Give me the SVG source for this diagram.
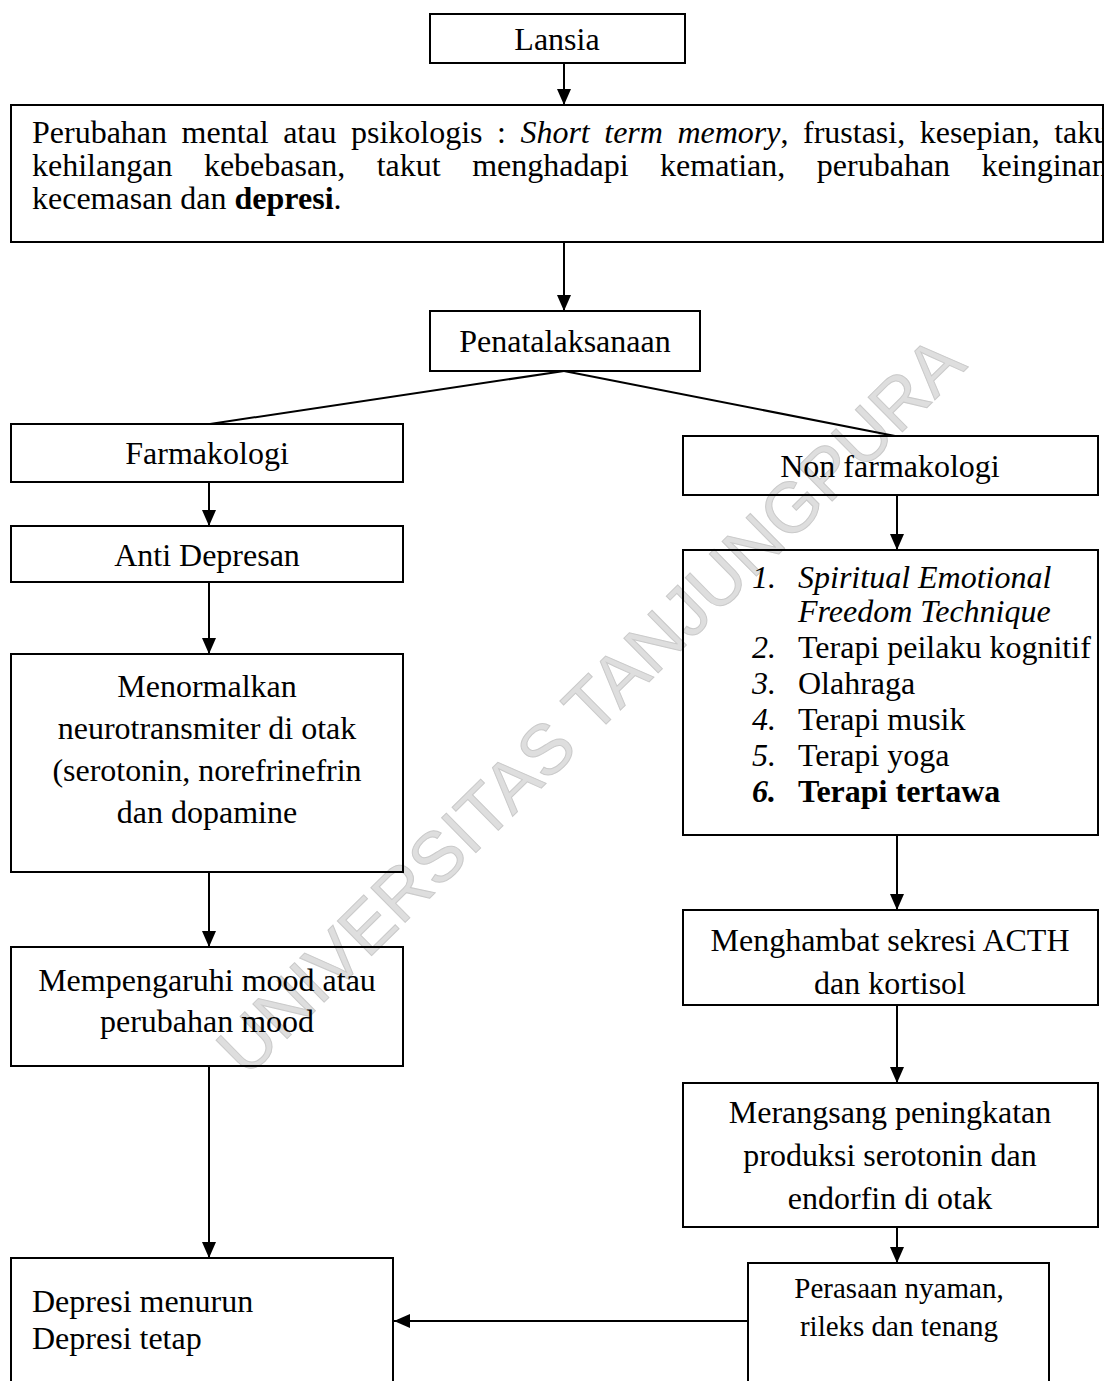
<svg xmlns="http://www.w3.org/2000/svg" width="1107" height="1381" viewBox="0 0 1107 1381">
<style>
.box{fill:none;stroke:#000;stroke-width:2}
.t{font-family:"Liberation Serif","Times New Roman",serif;font-size:32px;fill:#000}
.c{text-anchor:middle}
.con{stroke:#000;stroke-width:2;fill:none}
.wm{font-family:"Liberation Sans",Arial,sans-serif;font-size:71px;fill:#dedede;stroke:#cacaca;stroke-width:1}
</style>
<defs>
<marker id="ah" markerUnits="userSpaceOnUse" markerWidth="16" markerHeight="16" refX="16" refY="7" orient="auto">
<path d="M0,0 L16,7 L0,14 Z" fill="#000"/>
</marker>
<clipPath id="bigclip"><rect x="0" y="100" width="1103" height="150"/></clipPath>
</defs>
<rect width="1107" height="1381" fill="#fff"/>
<text class="wm" text-anchor="middle" transform="translate(590,705) rotate(-44.6)" x="0" y="25">UNIVERSITAS TANJUNGPURA</text>

<g id="connectors">
<line class="con" x1="564" y1="63" x2="564" y2="105" marker-end="url(#ah)"/>
<line class="con" x1="564" y1="242" x2="564" y2="311" marker-end="url(#ah)"/>
<line class="con" x1="564" y1="371" x2="210" y2="424"/>
<line class="con" x1="564" y1="371" x2="895" y2="436"/>
<line class="con" x1="209" y1="482" x2="209" y2="526" marker-end="url(#ah)"/>
<line class="con" x1="209" y1="582" x2="209" y2="654" marker-end="url(#ah)"/>
<line class="con" x1="209" y1="872" x2="209" y2="947" marker-end="url(#ah)"/>
<line class="con" x1="209" y1="1066" x2="209" y2="1258" marker-end="url(#ah)"/>
<line class="con" x1="897" y1="495" x2="897" y2="550" marker-end="url(#ah)"/>
<line class="con" x1="897" y1="835" x2="897" y2="910" marker-end="url(#ah)"/>
<line class="con" x1="897" y1="1005" x2="897" y2="1083" marker-end="url(#ah)"/>
<line class="con" x1="897" y1="1227" x2="897" y2="1263" marker-end="url(#ah)"/>
<line class="con" x1="748" y1="1321" x2="394" y2="1321" marker-end="url(#ah)"/>
</g>

<g id="lansia">
<rect class="box" x="430" y="14" width="255" height="49"/>
<text class="t c" x="557" y="50">Lansia</text>
</g>

<g id="perubahan">
<rect class="box" x="11" y="105" width="1092" height="137"/>
<g clip-path="url(#bigclip)">
<text class="t" x="32" y="143" word-spacing="6.5">Perubahan mental atau psikologis : <tspan font-style="italic">Short term memory</tspan>, frustasi, kesepian, takut</text>
<text class="t" x="32" y="176" word-spacing="23.5">kehilangan kebebasan, takut menghadapi kematian, perubahan keinginan</text>
</g>
<text class="t" x="32" y="209">kecemasan dan <tspan font-weight="bold">depresi</tspan>.</text>
</g>

<g id="penatalaksanaan">
<rect class="box" x="430" y="311" width="270" height="60"/>
<text class="t c" x="565" y="352">Penatalaksanaan</text>
</g>

<g id="farmakologi">
<rect class="box" x="11" y="424" width="392" height="58"/>
<text class="t c" x="207" y="464">Farmakologi</text>
</g>

<g id="anti-depresan">
<rect class="box" x="11" y="526" width="392" height="56"/>
<text class="t c" x="207" y="566">Anti Depresan</text>
</g>

<g id="menormalkan">
<rect class="box" x="11" y="654" width="392" height="218"/>
<text class="t c" x="207" y="697">Menormalkan</text>
<text class="t c" x="207" y="739">neurotransmiter di otak</text>
<text class="t c" x="207" y="781">(serotonin, norefrinefrin</text>
<text class="t c" x="207" y="823">dan dopamine</text>
</g>

<g id="mempengaruhi">
<rect class="box" x="11" y="947" width="392" height="119"/>
<text class="t c" x="207" y="991">Mempengaruhi mood atau</text>
<text class="t c" x="207" y="1032">perubahan mood</text>
</g>

<g id="depresi">
<rect class="box" x="11" y="1258" width="382" height="160"/>
<text class="t" x="32" y="1312">Depresi menurun</text>
<text class="t" x="32" y="1349">Depresi tetap</text>
</g>

<g id="non-farmakologi">
<rect class="box" x="683" y="436" width="415" height="59"/>
<text class="t c" x="890" y="477">Non farmakologi</text>
</g>

<g id="terapi-list">
<rect class="box" x="683" y="550" width="415" height="285"/>
<text class="t" font-style="italic"><tspan x="752" y="588">1.</tspan><tspan x="798" y="588">Spiritual Emotional</tspan><tspan x="798" y="622">Freedom Technique</tspan></text>
<text class="t"><tspan x="752" y="658" font-style="italic">2.</tspan><tspan x="798" y="658">Terapi peilaku kognitif</tspan></text>
<text class="t"><tspan x="752" y="694" font-style="italic">3.</tspan><tspan x="798" y="694">Olahraga</tspan></text>
<text class="t"><tspan x="752" y="730" font-style="italic">4.</tspan><tspan x="798" y="730">Terapi musik</tspan></text>
<text class="t"><tspan x="752" y="766" font-style="italic">5.</tspan><tspan x="798" y="766">Terapi yoga</tspan></text>
<text class="t" font-weight="bold"><tspan x="752" y="802" font-style="italic">6.</tspan><tspan x="798" y="802">Terapi tertawa</tspan></text>
</g>

<g id="menghambat">
<rect class="box" x="683" y="910" width="415" height="95"/>
<text class="t c" x="890" y="951">Menghambat sekresi ACTH</text>
<text class="t c" x="890" y="994">dan kortisol</text>
</g>

<g id="merangsang">
<rect class="box" x="683" y="1083" width="415" height="144"/>
<text class="t c" x="890" y="1123">Merangsang peningkatan</text>
<text class="t c" x="890" y="1166">produksi serotonin dan</text>
<text class="t c" x="890" y="1209">endorfin di otak</text>
</g>

<g id="perasaan">
<rect class="box" x="748" y="1263" width="301" height="160"/>
<text class="t c" x="899" y="1298" style="font-size:29px">Perasaan nyaman,</text>
<text class="t c" x="899" y="1336" style="font-size:29px">rileks dan tenang</text>
</g>
</svg>
